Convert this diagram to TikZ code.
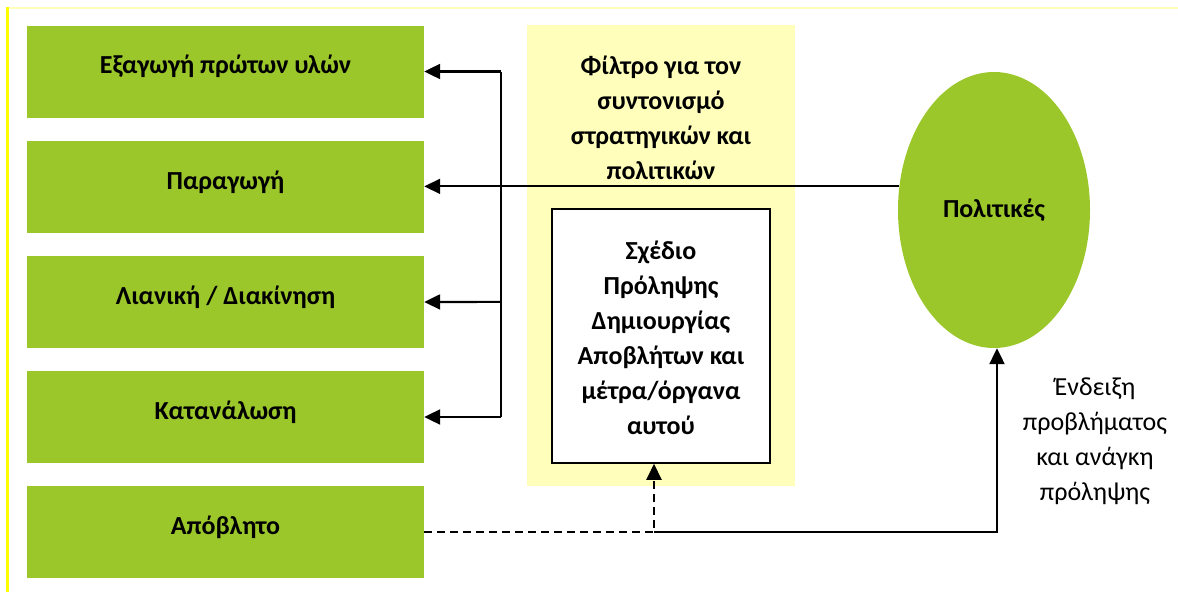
\documentclass[tikz,border=0pt]{standalone}
\usepackage{fontspec}
\setmainfont{Carlito}
\usetikzlibrary{arrows.meta,shapes.geometric,calc}
\definecolor{lgreen}{RGB}{155,199,42}
\definecolor{pyellow}{RGB}{255,255,187}
\definecolor{fyellow}{RGB}{255,255,0}
\definecolor{tyellow}{RGB}{255,255,185}
\tikzset{
  stage/.style={fill=lgreen, minimum width=397pt, minimum height=92pt, inner sep=0pt,
    text height=19pt, text depth=15pt,
    font=\bfseries\fontsize{26}{35}\selectfont},
  boldtxt/.style={align=center, inner sep=0pt, font=\bfseries\fontsize{26}{35}\selectfont},
  plaintxt/.style={align=center, inner sep=0pt, font=\fontsize{26}{35}\selectfont},
  tip/.style={-{Triangle[length=16pt,width=15pt]}},
  conn/.style={line width=2.2pt, tip},
  dashconn/.style={line width=2pt, dash pattern=on 8pt off 5pt, tip},
}
\begin{document}
\begin{tikzpicture}[x=1pt,y=-1pt]
\useasboundingbox (0,0) rectangle (1178,592);
% frame
\draw[tyellow, line width=1.5pt] (6,8) -- (1178,8);
\draw[fyellow, line width=3pt] (7.5,7) -- (7.5,592);
% left stages
\node[stage] (s1) at (225.5,71.5) {Εξαγωγή πρώτων υλών};
\node[stage] (s2) at (225.5,187) {Παραγωγή};
\node[stage] (s3) at (225.5,302) {Λιανική / Διακίνηση};
\node[stage] (s4) at (225.5,417) {Κατανάλωση};
\node[stage] (s5) at (225.5,532) {Απόβλητο};
% filter
\node[fill=pyellow, minimum width=268pt, minimum height=461pt, inner sep=0pt] (filt) at (661,255.5) {};
\node[boldtxt] (ftitle) at (661,118) {Φίλτρο για τον\\συντονισμό\\στρατηγικών και\\πολιτικών};
\node[draw=black, line width=1.5pt, fill=white, minimum width=218pt, minimum height=254pt, inner sep=0pt] (plan) at (661,336) {};
\node[boldtxt] (plantxt) at (661,338) {Σχέδιο\\Πρόληψης\\Δημιουργίας\\Αποβλήτων και\\μέτρα/όργανα\\αυτού};
% policies
\node[ellipse, fill=lgreen, minimum width=192pt, minimum height=276pt, inner sep=0pt,
  font=\bfseries\fontsize{26}{35}\selectfont] (pol) at (994,210) {Πολιτικές};
\node[plaintxt] (lab) at (1095,441) {Ένδειξη\\προβλήματος\\και ανάγκη\\πρόληψης};
% connectors
\coordinate (bt) at (501,71.5);
\coordinate (bb) at (501,417);
\coordinate (j) at (654,532);
\coordinate (k) at (997,532);
\draw[line width=2.2pt] (bt) -- (bb);
\draw[conn] (bt) -- (s1.east);
\draw[conn] ($(bt)!0.6667!(bb)$) -- (s3.east);
\draw[conn] (bb) -- (s4.east);
\draw[line width=1.8pt, tip] (pol.166) -- (pol.166 -| s2.east);
\draw[dashconn] (s5.east) -- (j) -- (j |- plan.south);
\draw[conn] (j) -- (k) -- (k |- pol.south);
\end{tikzpicture}
\end{document}
